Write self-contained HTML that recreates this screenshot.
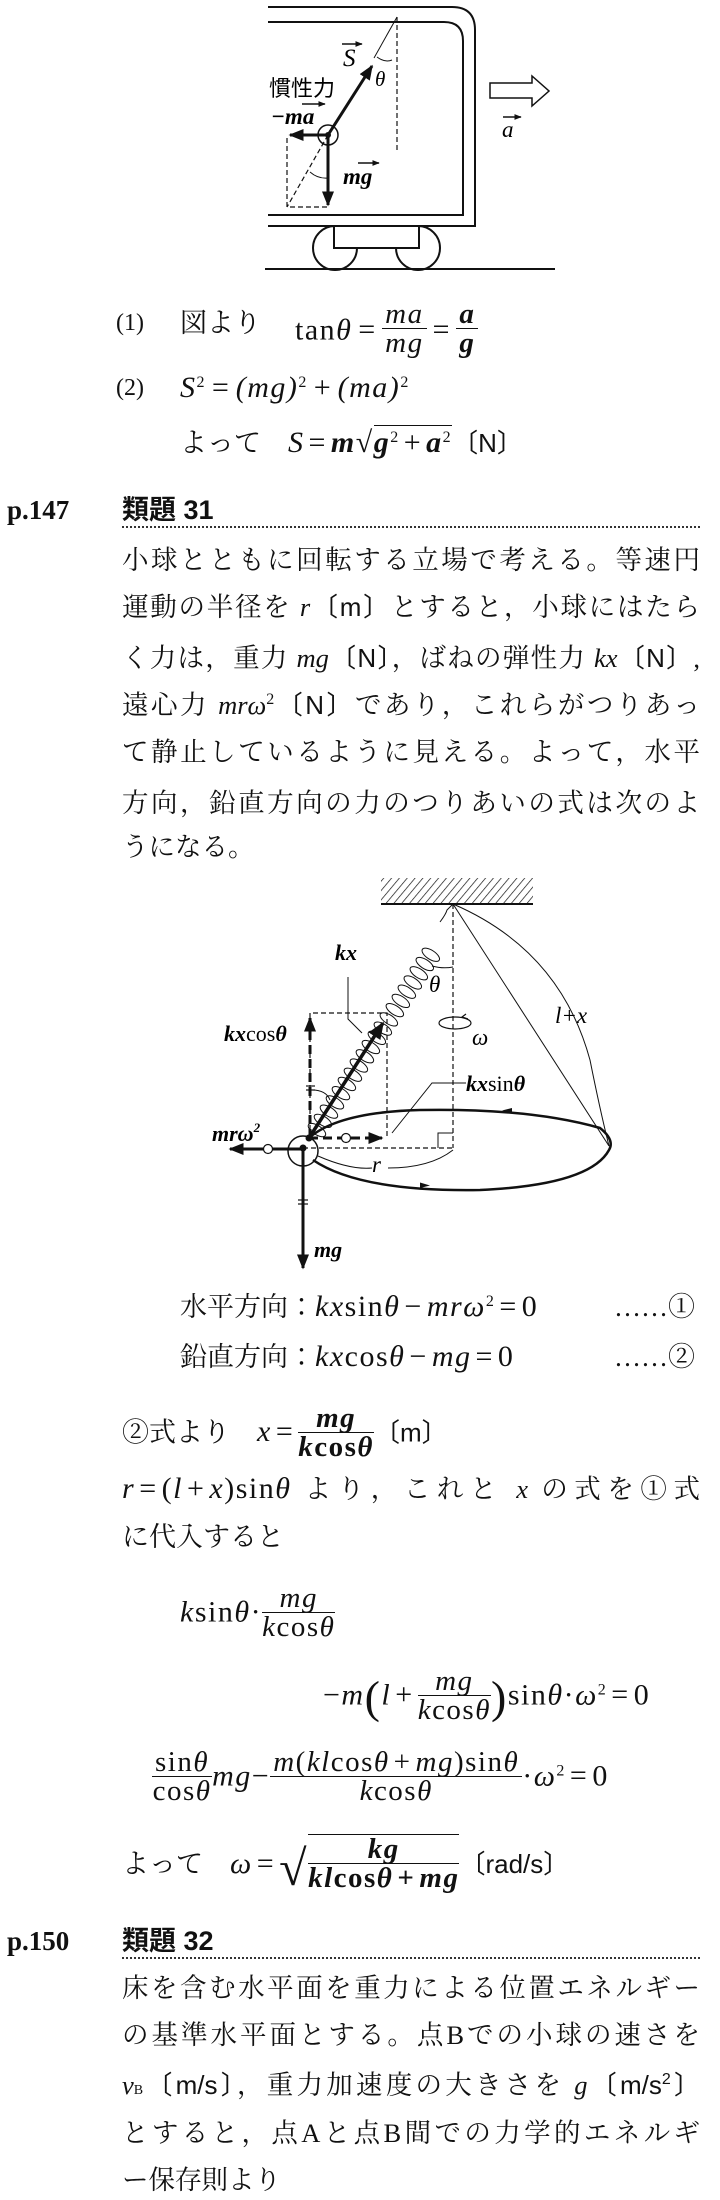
<!DOCTYPE html>
<html><head><meta charset="utf-8">
<style>
html,body{margin:0;padding:0;background:#fff;}
body{width:720px;height:2200px;position:relative;overflow:hidden;font-family:"Liberation Serif","Noto Serif CJK JP",serif;color:#111;}
.t{position:absolute;white-space:nowrap;font-size:27px;line-height:30px;width:max-content;}
.m{font-size:30px;letter-spacing:1.5px;white-space:nowrap;}
.i{font-style:italic;}
.b{font-weight:bold;}
.o{margin:0 4px;}
.g{font-family:"Liberation Sans","Noto Sans CJK JP",sans-serif;font-size:26px;letter-spacing:0;}
.body{position:absolute;left:122px;width:578px;font-size:26.5px;line-height:30px;text-align:justify;text-align-last:justify;white-space:nowrap;}
.fr{display:inline-block;vertical-align:middle;text-align:center;line-height:28px;font-size:29px;white-space:nowrap;width:max-content;}
.fr span{display:block;white-space:nowrap;}
.fr span span{display:inline;}
.fr .n{border-bottom:1.5px solid #111;padding:0 3px;}
.hd{position:absolute;font-size:27px;font-weight:bold;line-height:30px;}
.dot{position:absolute;left:122px;width:578px;border-top:2px dotted #333;height:0;}
sup{font-size:16px;vertical-align:10px;line-height:0;font-style:normal;}
</style></head><body>

<svg width="720" height="1300" style="position:absolute;left:0;top:0" xmlns="http://www.w3.org/2000/svg">
<defs>
<marker id="ah" viewBox="0 0 10 10" refX="9" refY="5" markerWidth="5" markerHeight="5" orient="auto"><path d="M0,1 L10,5 L0,9 z" fill="#111"/></marker>
<pattern id="hatch" width="6" height="6" patternUnits="userSpaceOnUse" patternTransform="rotate(40)"><line x1="0" y1="0" x2="0" y2="6" stroke="#111" stroke-width="1.4"/></pattern>
</defs>
<g fill="none" stroke="#111" stroke-width="2">
<path d="M268,7 H452 Q475,7 475,30 V226 H268"/>
<path d="M268,22 H444 Q463,22 463,41 V215 H268"/>
<circle cx="335" cy="248" r="22" fill="#fff"/>
<circle cx="418" cy="248" r="22" fill="#fff"/>
<rect x="334" y="226" width="85" height="22" fill="#fff"/>
<line x1="265" y1="269" x2="555" y2="269"/>
</g>
<g fill="none" stroke="#111" stroke-width="1.2" stroke-dasharray="5,3">
<line x1="397" y1="17" x2="397" y2="153"/>
<path d="M287,138 V207 H328"/>
<line x1="328" y1="135" x2="287" y2="207"/>
</g>
<path d="M392,60 Q385,63 377,57" fill="none" stroke="#111" stroke-width="1"/>
<path d="M397,17 L374,58" stroke="#111" stroke-width="1"/>
<path d="M310,172 Q318,179 328,178" fill="none" stroke="#111" stroke-width="1"/>
<line x1="328" y1="135" x2="372" y2="66" stroke="#111" stroke-width="3" marker-end="url(#ah)"/>
<line x1="328" y1="135" x2="290" y2="135" stroke="#111" stroke-width="3" marker-end="url(#ah)"/>
<line x1="328" y1="135" x2="328" y2="205" stroke="#111" stroke-width="3" marker-end="url(#ah)"/>
<circle cx="328" cy="135" r="10" fill="none" stroke="#111" stroke-width="1.5"/>
<circle cx="328" cy="135" r="3" fill="#111"/>
<path d="M490,83 H532 V76 L549,91 L532,106 V98 H490 Z" fill="#fff" stroke="#111" stroke-width="1.5"/>
<text x="343" y="66" font-family="Liberation Serif" font-size="25" font-style="italic">S</text>
<path d="M342,44 H362" stroke="#111" stroke-width="1.5" marker-end="url(#ah)"/>
<text x="375" y="86" font-family="Liberation Serif" font-size="21" font-style="italic">θ</text>
<text x="269" y="96" font-family="Noto Sans CJK JP" font-size="22">慣性力</text>
<text x="271" y="124" font-family="Liberation Serif" font-size="23" font-style="italic" font-weight="bold">−ma</text>
<path d="M302,104 H325" stroke="#111" stroke-width="1.5" marker-end="url(#ah)"/>
<text x="343" y="184" font-family="Liberation Serif" font-size="23" font-style="italic" font-weight="bold">mg</text>
<path d="M358,163 H379" stroke="#111" stroke-width="1.5" marker-end="url(#ah)"/>
<text x="502" y="137" font-family="Liberation Serif" font-size="23" font-style="italic">a</text>
<path d="M503,117 H521" stroke="#111" stroke-width="1.5" marker-end="url(#ah)"/>

<rect x="381" y="878" width="152" height="26" fill="url(#hatch)"/>
<line x1="381" y1="904" x2="533" y2="904" stroke="#111" stroke-width="2"/>
<g fill="none" stroke="#111" stroke-width="1.2" stroke-dasharray="5,3">
<line x1="453" y1="904" x2="453" y2="1148"/>
<line x1="303" y1="1148" x2="453" y2="1148"/>
<path d="M310,1138 V1013 H387 V1138"/>
</g>
<path d="M438,1148 V1133 H453" fill="none" stroke="#111" stroke-width="1"/>
<line x1="453" y1="904" x2="609" y2="1146" stroke="#111" stroke-width="1"/>
<path d="M453,904 Q560,950 590,1060 Q600,1110 609,1146" fill="none" stroke="#111" stroke-width="1"/>
<path d="M310,1137 Q340,1112 420,1110 Q530,1108 600,1128 Q615,1140 609,1150 Q590,1185 480,1190 Q360,1192 313,1160" fill="none" stroke="#111" stroke-width="2.5"/>
<path d="M512,1108 l-10,2.5 l10,3 z" fill="#111"/>
<path d="M420,1188 l10,-2.5 l-10,-3 z" fill="#111"/>
<path d="M318,1156 Q350,1170 372,1168 M388,1168 Q430,1168 453,1150" fill="none" stroke="#111" stroke-width="1"/>
<g transform="translate(312,1134) rotate(-57)" fill="none" stroke="#111" stroke-width="1">
<ellipse cx="6" cy="2" rx="4.5" ry="10"/><ellipse cx="17" cy="2" rx="4.5" ry="10"/><ellipse cx="28" cy="2" rx="4.5" ry="10"/><ellipse cx="39" cy="2" rx="4.5" ry="10"/><ellipse cx="50" cy="2" rx="4.5" ry="10"/><ellipse cx="61" cy="2" rx="4.5" ry="10"/><ellipse cx="72" cy="2" rx="4.5" ry="10"/><ellipse cx="83" cy="2" rx="4.5" ry="10"/><ellipse cx="94" cy="2" rx="4.5" ry="10"/><ellipse cx="105" cy="2" rx="4.5" ry="10"/><ellipse cx="116" cy="2" rx="4.5" ry="10"/><ellipse cx="127" cy="2" rx="4.5" ry="10"/><ellipse cx="138" cy="2" rx="4.5" ry="10"/><ellipse cx="149" cy="2" rx="4.5" ry="10"/><ellipse cx="160" cy="2" rx="4.5" ry="10"/><ellipse cx="171" cy="2" rx="4.5" ry="10"/><ellipse cx="182" cy="2" rx="4.5" ry="10"/><ellipse cx="193" cy="2" rx="4.5" ry="10"/><ellipse cx="204" cy="2" rx="4.5" ry="10"/><ellipse cx="215" cy="2" rx="4.5" ry="10"/>
</g>
<path d="M440,922 Q446,914 447,910 L453,904" fill="none" stroke="#111" stroke-width="1"/>
<path d="M432,966 Q443,969 453,967" fill="none" stroke="#111" stroke-width="1"/>
<ellipse cx="455" cy="1023" rx="16" ry="6" fill="none" stroke="#111" stroke-width="1.2"/>
<path d="M466,1014 l-4,3 l6,2" fill="none" stroke="#111" stroke-width="1.2"/>
<path d="M348,977 V1019 L362,1033" fill="none" stroke="#111" stroke-width="1"/>
<path d="M466,1083 H432 L392,1133" fill="none" stroke="#111" stroke-width="1"/>
<path d="M312,1090 Q326,1090 330,1100" fill="none" stroke="#111" stroke-width="1"/>
<line x1="309" y1="1138" x2="383" y2="1023" stroke="#111" stroke-width="3.5" marker-end="url(#ah)"/>
<line x1="310" y1="1138" x2="310" y2="1018" stroke="#111" stroke-width="3" stroke-dasharray="9,5" marker-end="url(#ah)"/>
<line x1="309" y1="1138" x2="382" y2="1138" stroke="#111" stroke-width="3" stroke-dasharray="9,5" marker-end="url(#ah)"/>
<line x1="303" y1="1149" x2="230" y2="1149" stroke="#111" stroke-width="3" marker-end="url(#ah)"/>
<line x1="303" y1="1149" x2="303" y2="1268" stroke="#111" stroke-width="3" marker-end="url(#ah)"/>
<line x1="306" y1="1086" x2="315" y2="1086" stroke="#111" stroke-width="1.2"/><line x1="306" y1="1090" x2="315" y2="1090" stroke="#111" stroke-width="1.2"/>
<line x1="298" y1="1200" x2="308" y2="1200" stroke="#111" stroke-width="1.2"/><line x1="298" y1="1204" x2="308" y2="1204" stroke="#111" stroke-width="1.2"/>
<circle cx="346" cy="1138" r="4.5" fill="#fff" stroke="#111" stroke-width="1.2"/>
<circle cx="268" cy="1149" r="4.5" fill="#fff" stroke="#111" stroke-width="1.2"/>
<circle cx="303" cy="1151" r="15" fill="none" stroke="#111" stroke-width="1.5"/>
<circle cx="303" cy="1148" r="3.5" fill="#111"/><circle cx="309" cy="1138" r="3.5" fill="#111"/>
<g font-family="Liberation Serif" font-style="italic" font-size="22" font-weight="bold">
<text x="335" y="960">kx</text>
<text x="224" y="1041">kx<tspan font-style="normal" font-weight="normal">cos</tspan>θ</text>
<text x="466" y="1091">kx<tspan font-style="normal" font-weight="normal">sin</tspan>θ</text>
<text x="212" y="1141">mrω<tspan font-size="13" dy="-9">2</tspan></text>
<text x="314" y="1257">mg</text>
</g>
<g font-family="Liberation Serif" font-style="italic" font-size="23">
<text x="429" y="992">θ</text>
<text x="555" y="1023">l+x</text>
<text x="472" y="1045">ω</text>
<text x="372" y="1172">r</text>
</g>
</svg>

<div class="t" style="left:116px;top:308px;font-size:24px;">(1)</div>
<div class="t" style="left:180px;top:308px;">図より</div>
<div class="t m i" style="left:295px;top:308px;"><span style="font-style:normal">tan</span>θ<span class="o">=</span><span class="fr" style="margin-top:-8px"><span class="n">ma</span><span>mg</span></span><span class="o">=</span><span class="fr b" style="margin-top:-8px"><span class="n">a</span><span>g</span></span></div>
<div class="t" style="left:116px;top:373px;font-size:24px;">(2)</div>
<div class="t m i" style="left:180px;top:373px;">S<sup>2</sup><span class="o">=</span>(mg)<sup>2</sup><span class="o">+</span>(ma)<sup>2</sup></div>
<div class="t" style="left:180px;top:428px;">よって　<span class="m"><i>S</i><span class="o">=</span><b><i>m</i></b>√<span style="border-top:1.5px solid #111"><b><i>g</i></b><sup>2</sup><span class="o">+</span><b><i>a</i></b><sup>2</sup></span></span><span class="g">〔N〕</span></div>

<div class="hd" style="left:7px;top:495px;">p.147</div>
<div class="hd g" style="left:122px;top:495px;font-size:27px;font-weight:bold;">類題 31</div>
<div class="dot" style="top:526px;"></div>
<div class="body" style="top:545px;">小球とともに回転する立場で考える。等速円</div>
<div class="body" style="top:592px;">運動の半径を <i>r</i><span class="g">〔m〕</span>とすると，小球にはたら</div>
<div class="body" style="top:643px;">く力は，重力 <i>mg</i><span class="g">〔N〕</span>，ばねの弾性力 <i>kx</i><span class="g">〔N〕</span>,</div>
<div class="body" style="top:690px;">遠心力 <i>mrω</i><sup>2</sup><span class="g">〔N〕</span>であり，これらがつりあっ</div>
<div class="body" style="top:737px;">て静止しているように見える。よって，水平</div>
<div class="body" style="top:788px;">方向，鉛直方向の力のつりあいの式は次のよ</div>
<div class="body" style="top:832px;text-align-last:left;">うになる。</div>

<div class="t" style="left:180px;top:1292px;">水平方向：<span class="m"><i>kx</i>sin<i>θ</i><span class="o">−</span><i>mrω</i><sup>2</sup><span class="o">=</span>0</span></div>
<div class="t" style="left:614px;top:1292px;">……①</div>
<div class="t" style="left:180px;top:1342px;">鉛直方向：<span class="m"><i>kx</i>cos<i>θ</i><span class="o">−</span><i>mg</i><span class="o">=</span>0</span></div>
<div class="t" style="left:614px;top:1342px;">……②</div>
<div class="t" style="left:122px;top:1408px;">②式より　<span class="m"><i>x</i><span class="o">=</span><span class="fr b" style="margin-top:-4px"><span class="n i">mg</span><span><i>k</i>cos<i>θ</i></span></span></span><span class="g">〔m〕</span></div>
<div class="body" style="top:1474px;"><span class="m"><i>r</i><span class="o">=</span>(<i>l</i><span class="o">+</span><i>x</i>)sin<i>θ</i></span> より，これと <i>x</i> の式を①式</div>
<div class="t" style="left:122px;top:1522px;">に代入すると</div>
<div class="t m" style="left:180px;top:1588px;"><i>k</i>sin<i>θ</i>·<span class="fr" style="margin-top:-4px"><span class="n i">mg</span><span><i>k</i>cos<i>θ</i></span></span></div>
<div class="t m" style="left:323px;top:1671px;">−<i>m</i><span style="font-size:46px;vertical-align:-8px">(</span><i>l</i><span class="o">+</span><span class="fr" style="margin-top:-4px"><span class="n i">mg</span><span><i>k</i>cos<i>θ</i></span></span><span style="font-size:46px;vertical-align:-8px">)</span>sin<i>θ</i>·<i>ω</i><sup>2</sup><span class="o">=</span>0</div>
<div class="t m" style="left:152px;top:1752px;"><span class="fr" style="margin-top:-4px"><span class="n">sin<i>θ</i></span><span>cos<i>θ</i></span></span><i>mg</i>−<span class="fr" style="margin-top:-4px"><span class="n"><i>m</i>(<i>kl</i>cos<i>θ</i><span class="o">+</span><i>mg</i>)sin<i>θ</i></span><span><i>k</i>cos<i>θ</i></span></span>·<i>ω</i><sup>2</sup><span class="o">=</span>0</div>
<div class="t" style="left:122px;top:1840px;">よって　<span class="m"><i>ω</i><span class="o">=</span><span style="font-size:50px;vertical-align:-12px">√</span><span class="fr b" style="border-top:1.5px solid #111;margin-top:-6px"><span class="n i">kg</span><span><i>kl</i>cos<i>θ</i><span class="o">+</span><i>mg</i></span></span></span><span class="g">〔rad/s〕</span></div>

<div class="hd" style="left:7px;top:1926px;">p.150</div>
<div class="hd g" style="left:122px;top:1926px;font-size:27px;font-weight:bold;">類題 32</div>
<div class="dot" style="top:1957px;"></div>
<div class="body" style="top:1973px;">床を含む水平面を重力による位置エネルギー</div>
<div class="body" style="top:2020px;">の基準水平面とする。点Bでの小球の速さを</div>
<div class="body" style="top:2070px;"><i>v</i><span style="font-size:14px">B</span><span class="g">〔m/s〕</span>，重力加速度の大きさを <i>g</i><span class="g">〔m/s<sup>2</sup>〕</span></div>
<div class="body" style="top:2118px;">とすると，点Aと点B間での力学的エネルギ</div>
<div class="body" style="top:2165px;text-align-last:left;">ー保存則より</div>
</body></html>
